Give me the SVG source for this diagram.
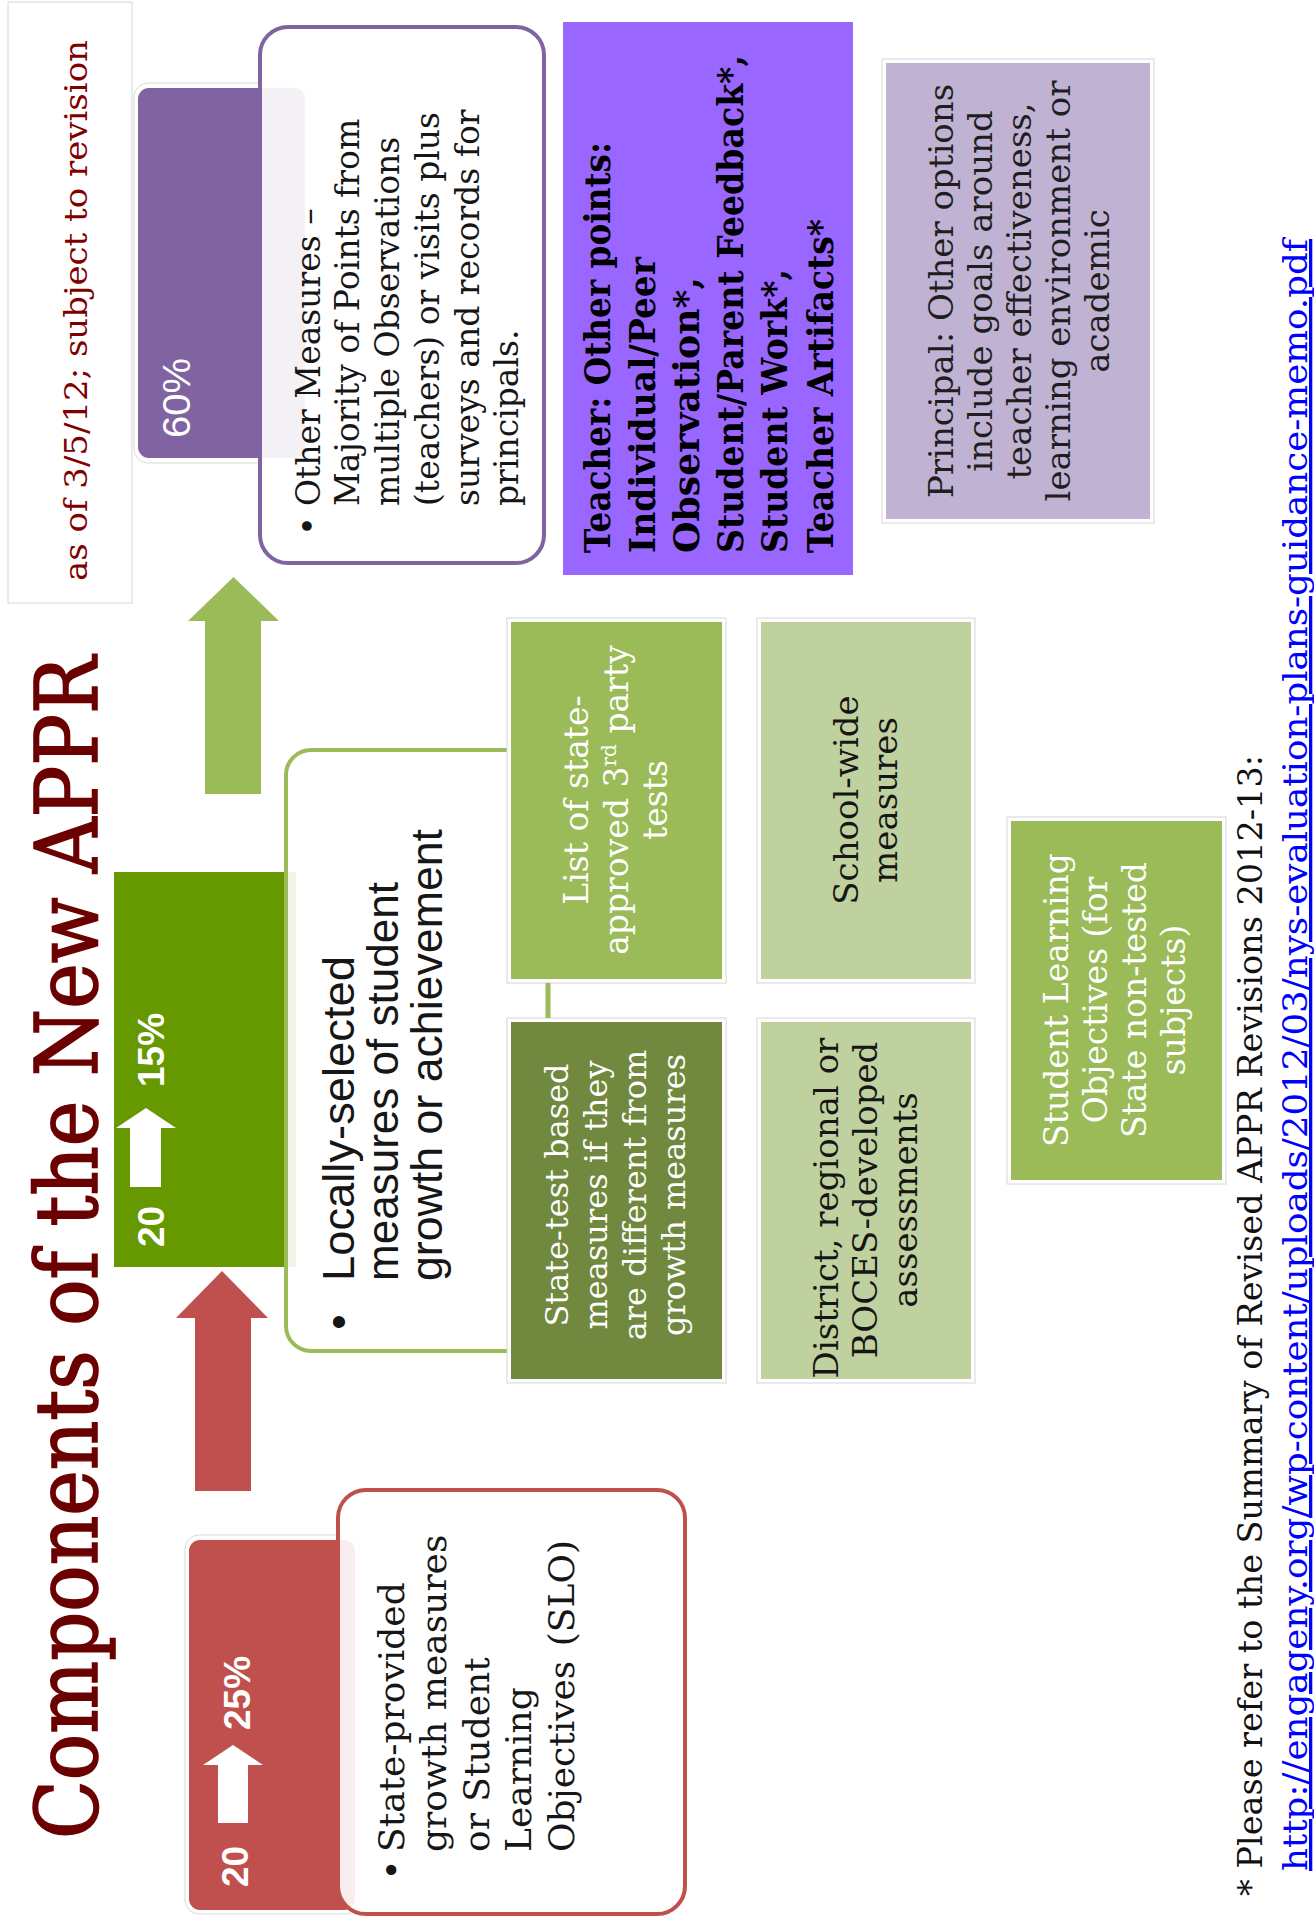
<svg xmlns="http://www.w3.org/2000/svg" width="1314" height="1923" viewBox="0 0 1314 1923">
<style>
.serif{font-family:"DejaVu Serif","Liberation Serif",serif}
.sans{font-family:"Liberation Sans",Arial,sans-serif}
.frame{fill:#ffffff;stroke:#d6d6d6;stroke-width:1}
.glow{fill:#ffffff;stroke:#d9d9d9;stroke-width:1}
.wbox{fill:#ffffff;fill-opacity:0.9;stroke-width:4}
.wt{fill:#ffffff}
.dk{fill:#161616}
</style>
<rect width="1314" height="1923" fill="#ffffff"/>

<g id="title">
<text class="serif" transform="rotate(-90)" x="-1839" y="97" font-size="86" fill="#6b0000" stroke="#6b0000" stroke-width="1.6" textLength="1183" lengthAdjust="spacingAndGlyphs">Components of the New APPR</text>
</g>

<g id="note-date">
<rect x="8" y="2" width="124" height="601" class="frame"/>
<text class="serif" transform="rotate(-90)" x="-581" y="87" font-size="32" fill="#800000" textLength="541" lengthAdjust="spacingAndGlyphs">as of 3/5/12; subject to revision</text>
</g>

<g id="other-measures">
<rect x="134" y="83" width="176" height="380" rx="14" class="glow"/>
<rect x="138" y="88" width="167" height="370" rx="11" fill="#8064a2"/>
<text class="sans wt" transform="rotate(-90)" x="-438" y="190" font-size="39" textLength="80" lengthAdjust="spacingAndGlyphs">60%</text>
<rect x="260" y="27" width="284" height="536" rx="28" class="wbox" stroke="#8064a2"/>
<g class="serif dk" font-size="33" transform="rotate(-90)">
<text x="-526" y="320" text-anchor="middle">•</text>
<text x="-506" y="320">Other Measures  –</text>
<text x="-506" y="359">Majority of Points from</text>
<text x="-506" y="399">multiple Observations</text>
<text x="-506" y="439">(teachers) or visits plus</text>
<text x="-506" y="479">surveys and records for</text>
<text x="-506" y="518">principals.</text>
</g>
</g>

<g id="teacher-points">
<rect x="563" y="22" width="290" height="553" fill="#9966ff"/>
<g class="serif" font-size="35" font-weight="bold" fill="#000000" transform="rotate(-90)">
<text x="-553" y="610" textLength="411" lengthAdjust="spacingAndGlyphs">Teacher: Other points:</text>
<text x="-553" y="655" textLength="296" lengthAdjust="spacingAndGlyphs">Individual/Peer</text>
<text x="-553" y="699" textLength="276" lengthAdjust="spacingAndGlyphs">Observation*,</text>
<text x="-553" y="743" textLength="498" lengthAdjust="spacingAndGlyphs">Student/Parent Feedback*,</text>
<text x="-553" y="787" textLength="284" lengthAdjust="spacingAndGlyphs">Student Work*,</text>
<text x="-553" y="833" textLength="334" lengthAdjust="spacingAndGlyphs">Teacher Artifacts*</text>
</g>
</g>

<g id="principal-points">
<rect x="882" y="59" width="272" height="464" class="frame"/>
<rect x="886" y="63" width="264" height="456" fill="#bfb2d3"/>
<g class="serif" font-size="34" fill="#1e1e1e" text-anchor="middle" transform="rotate(-90)">
<text x="-291" y="953">Principal: Other options</text>
<text x="-291" y="992">include goals  around</text>
<text x="-291" y="1031">teacher effectiveness,</text>
<text x="-291" y="1070">learning environment or</text>
<text x="-291" y="1109">academic</text>
</g>
</g>

<g id="local-measures">
<rect x="114" y="872" width="182" height="395" fill="#669900"/>
<polygon points="116,1128 146,1108 176,1128 161,1128 161,1187 130,1187 130,1128" fill="#ffffff"/>
<g class="sans wt" font-size="37" font-weight="bold" transform="rotate(-90)">
<text x="-1247" y="164">20</text>
<text x="-1087" y="164">15%</text>
</g>
<path d="M507,750 H311 A25,25 0 0 0 286,775 V1326 A25,25 0 0 0 311,1351 H507" class="wbox" stroke="#9bbb59"/>
<g class="sans dk" font-size="44" transform="rotate(-90)">
<text x="-1322" y="354" text-anchor="middle">•</text>
<text x="-1281" y="354" textLength="325" lengthAdjust="spacingAndGlyphs">Locally-selected</text>
<text x="-1281" y="398" textLength="399" lengthAdjust="spacingAndGlyphs">measures of student</text>
<text x="-1281" y="442" textLength="452" lengthAdjust="spacingAndGlyphs">growth or achievement</text>
</g>
</g>

<g id="third-party-tests">
<rect x="507" y="618" width="219" height="365" class="frame"/>
<rect x="511" y="622" width="211" height="357" fill="#9bbb59"/>
<g class="serif wt" font-size="33" text-anchor="middle" transform="rotate(-90)">
<text x="-800" y="588">List of state-</text>
<text x="-800" y="628">approved 3<tspan font-size="20" dy="-12">rd</tspan><tspan dy="12"> party</tspan></text>
<text x="-800" y="667">tests</text>
</g>
</g>

<g id="state-test-measures">
<rect x="507" y="1018" width="219" height="365" class="frame"/>
<rect x="511" y="1022" width="211" height="357" fill="#71893f"/>
<g class="serif wt" font-size="32" text-anchor="middle" transform="rotate(-90)">
<text x="-1195" y="568">State-test based</text>
<text x="-1195" y="607">measures if  they</text>
<text x="-1195" y="646">are different from</text>
<text x="-1195" y="685">growth measures</text>
</g>
</g>

<g id="school-wide">
<rect x="757" y="618" width="218" height="365" class="frame"/>
<rect x="761" y="622" width="210" height="357" fill="#c0d1a0"/>
<g class="serif dk" font-size="34" text-anchor="middle" transform="rotate(-90)">
<text x="-800" y="858">School-wide</text>
<text x="-800" y="897">measures</text>
</g>
</g>

<g id="district-assessments">
<rect x="757" y="1018" width="218" height="365" class="frame"/>
<rect x="761" y="1022" width="210" height="357" fill="#c0d1a0"/>
<g class="serif dk" font-size="34" text-anchor="middle" transform="rotate(-90)">
<text x="-1208" y="838">District, regional or</text>
<text x="-1200" y="877">BOCES-developed</text>
<text x="-1200" y="917">assessments</text>
</g>
</g>

<g id="slo-non-tested">
<rect x="1007" y="817" width="219" height="367" class="frame"/>
<rect x="1011" y="821" width="211" height="359" fill="#9bbb59"/>
<g class="serif wt" font-size="33" text-anchor="middle" transform="rotate(-90)">
<text x="-1000" y="1068">Student Learning</text>
<text x="-1000" y="1107">Objectives  (for</text>
<text x="-1000" y="1146">State non-tested</text>
<text x="-1000" y="1185">subjects)</text>
</g>
</g>

<g id="state-growth">
<rect x="185" y="1535" width="175" height="379" rx="14" class="glow"/>
<rect x="189" y="1540" width="166" height="370" rx="11" fill="#c0504d"/>
<polygon points="203,1765 233,1745 263,1765 248,1765 248,1823 218,1823 218,1765" fill="#ffffff"/>
<g class="sans wt" font-size="37" font-weight="bold" transform="rotate(-90)">
<text x="-1887" y="248">20</text>
<text x="-1730" y="250">25%</text>
</g>
<rect x="338" y="1490" width="347" height="424" rx="28" class="wbox" stroke="#c0504d"/>
<g class="serif dk" font-size="36" transform="rotate(-90)">
<text x="-1870" y="404" text-anchor="middle">•</text>
<text x="-1852" y="404">State-provided</text>
<text x="-1852" y="446">growth measures</text>
<text x="-1852" y="489">or Student</text>
<text x="-1852" y="531">Learning</text>
<text x="-1852" y="574">Objectives</text>
<text x="-1540" y="574" text-anchor="end">(SLO)</text>
</g>
</g>

<g id="connectors">
<polygon points="188,621 233.5,577 279,621 261,621 261,794 205,794 205,621" fill="#9bbb59"/>
<polygon points="176,1318 222,1271 268,1318 251,1318 251,1491 195,1491 195,1318" fill="#c0504d"/>
<line x1="548" y1="983" x2="548" y2="1018" stroke="#9bbb59" stroke-width="5"/>
</g>

<g id="footnote">
<text class="serif" transform="rotate(-90)" x="-1896" y="1262" font-size="33" fill="#111111" textLength="1141" lengthAdjust="spacingAndGlyphs">* Please refer to the Summary of Revised APPR Revisions 2012-13:</text>
<text class="serif" transform="rotate(-90)" x="-1871" y="1307" font-size="33" fill="#0000ff" text-decoration="underline" textLength="1632" lengthAdjust="spacingAndGlyphs">http://engageny.org/wp-content/uploads/2012/03/nys-evaluation-plans-guidance-memo.pdf</text>
</g>
</svg>
